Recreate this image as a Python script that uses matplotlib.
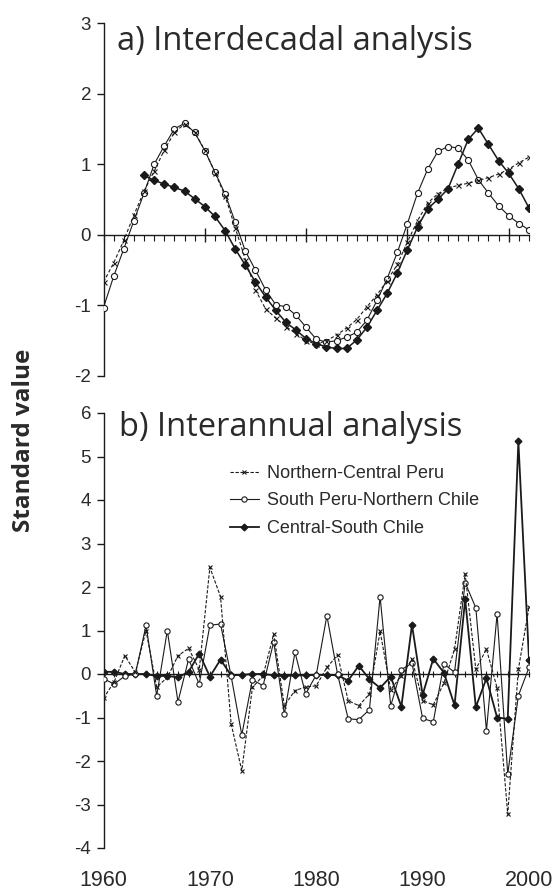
import matplotlib
matplotlib.use("Agg")
import matplotlib.pyplot as plt
import numpy as np

# ---------------- data ----------------
years_a = list(range(1960, 2003))
ncp_a = [-0.67, -0.40, -0.08, 0.28, 0.62, 0.90, 1.20, 1.45, 1.57, 1.45,
         1.20, 0.88, 0.55, 0.10, -0.35, -0.78, -1.05, -1.18, -1.30, -1.40,
         -1.50, -1.55, -1.50, -1.42, -1.32, -1.20, -1.02, -0.85, -0.65, -0.42,
         -0.10, 0.20, 0.45, 0.58, 0.66, 0.70, 0.73, 0.77, 0.81, 0.86,
         0.93, 1.02, 1.10]
spnc_a = [-1.03, -0.59, -0.20, 0.20, 0.59, 1.00, 1.26, 1.50, 1.58, 1.45,
          1.19, 0.89, 0.58, 0.18, -0.23, -0.50, -0.78, -0.99, -1.02, -1.14,
          -1.31, -1.48, -1.52, -1.50, -1.45, -1.38, -1.21, -0.93, -0.62, -0.25,
          0.16, 0.59, 0.93, 1.18, 1.25, 1.23, 1.06, 0.78, 0.59, 0.41,
          0.27, 0.16, 0.07]
years_csc_a = list(range(1964, 2003))
csc_a = [0.84, 0.77, 0.72, 0.67, 0.62, 0.51, 0.40, 0.26, 0.06, -0.20,
         -0.43, -0.67, -0.88, -1.07, -1.24, -1.35, -1.47, -1.54, -1.59, -1.61,
         -1.61, -1.49, -1.31, -1.07, -0.83, -0.54, -0.21, 0.11, 0.37, 0.50,
         0.65, 1.00, 1.35, 1.51, 1.28, 1.05, 0.87, 0.65, 0.38]

years_b = list(range(1960, 2001))
ncp_b = [-0.56, -0.18, 0.42, 0.04, 1.00, -0.30, -0.08, 0.42, 0.59, 0.10,
         2.45, 1.78, -1.15, -2.22, -0.31, -0.04, 0.92, -0.73, -0.38, -0.30,
         -0.27, 0.15, 0.44, -0.61, -0.73, -0.46, 0.98, -0.36, -0.04, 0.34,
         -0.61, -0.71, -0.21, 0.57, 2.30, 0.11, 0.57, -0.32, -3.22, 0.11,
         1.53]
spnc_b = [-0.11, -0.23, -0.05, 0.00, 1.12, -0.50, 1.00, -0.64, 0.34, -0.23,
          1.12, 1.15, -0.05, -1.40, -0.13, -0.27, 0.74, -0.92, 0.50, -0.46,
          -0.02, 1.34, 0.00, -1.03, -1.05, -0.82, 1.78, -0.73, 0.10, 0.25,
          -1.02, -1.10, 0.23, 0.04, 2.10, 1.52, -1.30, 1.38, -2.30, -0.50,
          0.15]
csc_b = [0.05, 0.05, 0.00, 0.00, 0.00, -0.05, -0.04, -0.08, 0.05, 0.47,
         -0.06, 0.33, -0.03, -0.02, 0.00, 0.00, -0.03, -0.05, -0.03, -0.03,
         -0.02, -0.02, -0.03, -0.15, 0.19, -0.12, -0.32, -0.06, -0.75, 1.13,
         -0.48, 0.35, 0.03, -0.72, 1.72, -0.76, -0.10, -1.00, -1.03, 5.35,
         0.33]

series_names = ["Northern-Central Peru", "South Peru-Northern Chile", "Central-South Chile"]
xtick_years = [1960, 1970, 1980, 1990, 2000]
yticks_a = [-2, -1, 0, 1, 2, 3]
yticks_b = [-4, -3, -2, -1, 0, 1, 2, 3, 4, 5, 6]

# ---------------- figure ----------------
W, H = 554, 893
fig = plt.figure(figsize=(W / 100, H / 100), dpi=100)
ink = "#1a1a1a"
tick_font = "Liberation Sans"
title_font = "Open Sans"

def fx(px):
    return px / W

def fy(py):
    return 1 - py / H

left, right = 103.5, 529
ax_a = fig.add_axes([fx(left), fy(376), fx(right - left), fy(23) - fy(376)])
ax_b = fig.add_axes([fx(left), fy(848), fx(right - left), fy(413) - fy(848)])

def style_axis(ax, ylim, yticks, xlim):
    ax.set_xlim(*xlim)
    ax.set_ylim(*ylim)
    for s in ("top", "right"):
        ax.spines[s].set_visible(False)
    ax.spines["bottom"].set_position(("data", 0))
    for s in ("bottom", "left"):
        ax.spines[s].set_color(ink)
        ax.spines[s].set_linewidth(1.0)
    ax.set_yticks(yticks)
    ax.set_yticklabels([str(v) for v in yticks], fontfamily=tick_font,
                       fontsize=13.5, color="#2a2a2a")
    ax.tick_params(axis="y", direction="out", length=5, width=1.0, color=ink, pad=4)
    ax.set_facecolor("none")

# ---- panel a ----
style_axis(ax_a, (-2, 3), yticks_a, (1960, 2002))
ax_a.set_xticks([1970, 1980, 1990, 2000])
ax_a.set_xticks(years_a, minor=True)
ax_a.tick_params(axis="x", which="major", direction="inout", length=10, width=1.0,
                 color=ink, labelbottom=False)
ax_a.tick_params(axis="x", which="minor", direction="out", length=4, width=0.8,
                 color=ink)

ax_a.plot(years_csc_a, csc_a, color=ink, lw=1.1, marker="D", ms=4.2,
          mfc=ink, mec=ink, zorder=3)
ax_a.plot(years_a, spnc_a, color=ink, lw=0.8, marker="o", ms=4.4,
          mfc="white", mec=ink, mew=0.8, zorder=4)
ax_a.plot(years_a, ncp_a, color=ink, lw=0.8, ls=(0, (3, 2)), marker="x", ms=3.6,
          mec=ink, mew=0.8, zorder=5)

# ---- panel b ----
style_axis(ax_b, (-4, 6), yticks_b, (1960, 2000))
ax_b.set_xticks(years_b)
ax_b.tick_params(axis="x", which="major", direction="inout", length=4, width=0.8,
                 color=ink, labelbottom=False)

l3, = ax_b.plot(years_b, csc_b, color=ink, lw=1.3, marker="D", ms=3.4,
                mfc=ink, mec=ink, zorder=3, label=series_names[2])
l2, = ax_b.plot(years_b, spnc_b, color=ink, lw=0.8, marker="o", ms=3.8,
                mfc="white", mec=ink, mew=0.8, zorder=4, label=series_names[1])
l1, = ax_b.plot(years_b, ncp_b, color=ink, lw=0.8, ls=(0, (3, 1.5)), marker="x", ms=3.2,
                mec=ink, mew=0.8, zorder=5, label=series_names[0])

sec = ax_b.secondary_xaxis(0.0)
sec.set_xticks(xtick_years)
sec.set_xticklabels([str(v) for v in xtick_years], fontfamily=tick_font,
                    fontsize=15.5, color="#2a2a2a")
sec.spines["bottom"].set_visible(False)
sec.tick_params(axis="x", length=0, pad=16)

leg = fig.legend(handles=[l1, l2, l3], loc="upper left",
                 bbox_to_anchor=(fx(230), fy(465)),
                 frameon=False, prop={"family": tick_font, "size": 13},
                 handlelength=1.6, handletextpad=0.45, labelspacing=0.58,
                 borderaxespad=0, borderpad=0)
for t in leg.get_texts():
    t.set_color("#2a2a2a")

# ---- titles and label ----
fig.text(fx(117), fy(50), "a) Interdecadal analysis", fontfamily=title_font,
         fontsize=23.5, color="#2a2a2a", ha="left", va="baseline")
fig.text(fx(119), fy(436), "b) Interannual analysis", fontfamily=title_font,
         fontsize=23.5, color="#2a2a2a", ha="left", va="baseline")
fig.text(fx(24), fy(440), "Standard value", fontfamily=title_font, fontweight="bold",
         fontsize=17.5, color="#2a2a2a", ha="center", va="center", rotation=90)

fig.savefig("out.png", dpi=100)
